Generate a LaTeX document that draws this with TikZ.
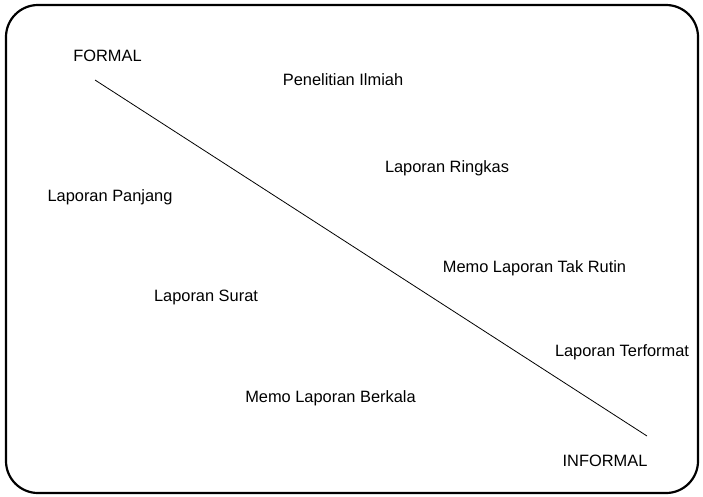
\documentclass[tikz,border=0pt]{standalone}
\usepackage{fontspec}
\setmainfont{Liberation Sans}
\begin{document}
\begin{tikzpicture}[x=1pt,y=-1pt,
  lbl/.style={inner sep=0pt,anchor=center,font=\fontsize{16.4}{19}\selectfont},
  frame/.style={draw=black,line width=2.2pt,rounded corners=32pt}]
\useasboundingbox (0,0) rectangle (703,496);
\draw[frame] (6,5) rectangle (698,493);
\coordinate (s) at (95,80);
\coordinate (e) at (647,436);
\draw[line width=0.8pt] (s) -- (e);
\node[lbl] (formal) at (107.5,56) {FORMAL};
\node[lbl] (pi) at (343,80) {Penelitian Ilmiah};
\node[lbl] (lr) at (447,168) {Laporan Ringkas};
\node[lbl] (lp) at (110,197) {Laporan Panjang};
\node[lbl] (mltr) at (534.5,268) {Memo Laporan Tak Rutin};
\node[lbl] (ls) at (206,297) {Laporan Surat};
\node[lbl] (lt) at (622,352) {Laporan Terformat};
\node[lbl] (mlb) at (330.5,398) {Memo Laporan Berkala};
\node[lbl] (informal) at (605,461) {INFORMAL};
\end{tikzpicture}
\end{document}
